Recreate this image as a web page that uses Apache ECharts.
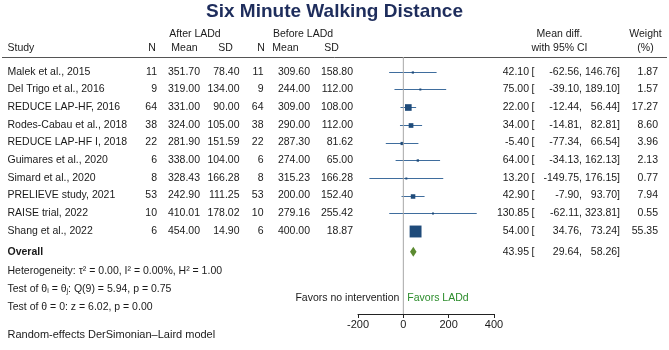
<!DOCTYPE html>
<html>
<head>
<meta charset="utf-8">
<style>
  html, body { margin: 0; padding: 0; background: #fff; }
  #chart { width: 669px; height: 350px; }
</style>
<script src="https://cdn.jsdelivr.net/npm/echarts@6.0.0/dist/echarts.min.js"></script>
</head>
<body>
<div id="chart"></div>
<script>
  // data
  const studies = [
    'Malek et al., 2015',
    'Del Trigo et al., 2016',
    'REDUCE LAP-HF, 2016',
    'Rodes-Cabau et al., 2018',
    'REDUCE LAP-HF I, 2018',
    'Guimares et al., 2020',
    'Simard et al., 2020',
    'PRELIEVE study, 2021',
    'RAISE trial, 2022',
    'Shang et al., 2022'
  ]
  const nAfter = [11, 9, 64, 38, 22, 6, 8, 53, 10, 6]
  const meanAfter = [351.70, 319.00, 331.00, 324.00, 281.90, 338.00, 328.43, 242.90, 410.01, 454.00]
  const sdAfter = [78.40, 134.00, 90.00, 105.00, 151.59, 104.00, 166.28, 111.25, 178.02, 14.90]
  const nBefore = [11, 9, 64, 38, 22, 6, 8, 53, 10, 6]
  const meanBefore = [309.60, 244.00, 309.00, 290.00, 287.30, 274.00, 315.23, 200.00, 279.16, 400.00]
  const sdBefore = [158.80, 112.00, 108.00, 112.00, 81.62, 65.00, 166.28, 152.40, 255.42, 18.87]
  const meanDiff = [42.10, 75.00, 22.00, 34.00, -5.40, 64.00, 13.20, 42.90, 130.85, 54.00]
  const ciLow = [-62.56, -39.10, -12.44, -14.81, -77.34, -34.13, -149.75, -7.90, -62.11, 34.76]
  const ciHigh = [146.76, 189.10, 56.44, 82.81, 66.54, 162.13, 176.15, 93.70, 323.81, 73.24]
  const weight = [1.87, 1.57, 17.27, 8.60, 3.96, 2.13, 0.77, 7.94, 0.55, 55.35]
  const overallDiff = 43.95
  const overallLow = 29.64
  const overallHigh = 58.26
  const xTicks = [-200, 0, 200, 400]
  const statLines = [
    'Heterogeneity: \u03c4\u00b2 = 0.00, I\u00b2 = 0.00%, H\u00b2 = 1.00',
    '{a|Test of \u03b8}{s|i}{a| = \u03b8}{s|j}{a|: Q(9) = 5.94, p = 0.75}',
    'Test of \u03b8 = 0: z = 6.02, p = 0.00'
  ]

  const FONT = '"Liberation Sans", Arial, Helvetica, sans-serif'
  const textColor = '#1a1a1a'
  const boxColor = '#1f4b7a'
  const ciColor = '#3f6d9d'
  const diamondColor = '#5b8a30'
  const favorColor = '#2b8c2b'
  const fs = 10.5

  // rows: pixel y of the first study row and row step
  const firstRowY = 71.7
  const rowH = 17.7
  const toRow = (y) => (y - firstRowY) / rowH
  const overallRow = toRow(251.7)
  const statRows = [toRow(270.7), toRow(289.3), toRow(307.3)]
  const favorRow = toRow(298.3)
  const footRow = toRow(335)
  const head1 = toRow(33.8)
  const head2 = toRow(48.3)

  const f2 = (v) => v.toFixed(2)
  const studyRows = studies.map((s, i) => i)

  const textSeries = []
  // one custom series per text column, placed on the full-page grid
  function addText(items, x, align, extra) {
    extra = extra || {}
    textSeries.push({
      type: 'custom',
      xAxisIndex: 1,
      yAxisIndex: 1,
      silent: true,
      data: items.map((it) => [x, it.row]),
      renderItem: function (params, api) {
        const p = api.coord([api.value(0), api.value(1)])
        const it = items[params.dataIndex]
        return {
          type: 'text',
          x: p[0],
          y: p[1],
          style: {
            text: it.text,
            align: align,
            verticalAlign: 'middle',
            fill: it.color || textColor,
            fontSize: it.size || fs,
            fontFamily: FONT,
            fontWeight: it.bold ? 'bold' : 'normal',
            rich: extra.rich
          }
        }
      }
    })
  }
  const col = (vals, fmt) => vals.map((v, i) => ({ row: i, text: fmt ? fmt(v) : String(v) }))

  // headers
  addText([{ row: head1, text: 'After LADd' }], 195, 'center')
  addText([{ row: head1, text: 'Before LADd' }], 303, 'center')
  addText([{ row: head1, text: 'Mean diff.' }, { row: head2, text: 'with 95% CI' }], 559.5, 'center')
  addText([{ row: head1, text: 'Weight' }, { row: head2, text: '(%)' }], 645.5, 'center')
  addText([{ row: head2, text: 'Study' }], 7.5, 'left')
  addText([{ row: head2, text: 'N' }], 152, 'center')
  addText([{ row: head2, text: 'Mean' }], 184.5, 'center')
  addText([{ row: head2, text: 'SD' }], 225.5, 'center')
  addText([{ row: head2, text: 'N' }], 261, 'center')
  addText([{ row: head2, text: 'Mean' }], 285.5, 'center')
  addText([{ row: head2, text: 'SD' }], 331.5, 'center')

  // study table
  addText(col(studies).concat([{ row: overallRow, text: 'Overall', bold: true }],
    statLines.map((t, k) => ({ row: statRows[k], text: t })),
    [{ row: footRow, text: 'Random-effects DerSimonian\u2013Laird model', size: 11 }]), 7.5, 'left', {
    rich: {
      a: { fontSize: fs, fontFamily: FONT, fill: textColor, verticalAlign: 'bottom' },
      s: { fontSize: 7, fontFamily: FONT, fill: textColor, verticalAlign: 'bottom' }
    }
  })
  addText(col(nAfter), 157, 'right')
  addText(col(meanAfter, f2), 200, 'right')
  addText(col(sdAfter, f2), 239.5, 'right')
  addText(col(nBefore), 263.5, 'right')
  addText(col(meanBefore, f2), 310, 'right')
  addText(col(sdBefore, f2), 353, 'right')

  // effect column
  addText(col(meanDiff, f2).concat([{ row: overallRow, text: f2(overallDiff) }]), 529, 'right')
  addText(studyRows.concat([overallRow]).map((r) => ({ row: r, text: '[' })), 531.5, 'left')
  addText(col(ciLow, (v) => f2(v) + ',').concat([{ row: overallRow, text: f2(overallLow) + ',' }]), 582, 'right')
  addText(col(ciHigh, (v) => f2(v) + ']').concat([{ row: overallRow, text: f2(overallHigh) + ']' }]), 620, 'right')
  addText(col(weight, f2), 658, 'right')

  const plotTop = 57
  const plotBottom = 314

  const option = {
    animation: false,
    title: {
      text: 'Six Minute Walking Distance',
      left: 'center',
      top: 2,
      padding: 0,
      textStyle: { fontSize: 19, fontWeight: 'bold', color: '#1e2d5c', fontFamily: FONT }
    },
    grid: [
      { left: 358, right: 175, top: plotTop, bottom: 350 - plotBottom, outerBoundsMode: 'none' },
      { left: 0, right: 0, top: 0, bottom: 0, outerBoundsMode: 'none' }
    ],
    xAxis: [
      {
        gridIndex: 0,
        type: 'value',
        min: xTicks[0],
        max: xTicks[xTicks.length - 1],
        interval: 200,
        axisLine: { show: true, onZero: false, lineStyle: { color: '#222', width: 1 } },
        axisTick: { show: true, length: 4, lineStyle: { color: '#222' } },
        axisLabel: { fontSize: 11, color: textColor, margin: 5, fontFamily: FONT, showMinLabel: true, showMaxLabel: true },
        splitLine: { show: false }
      },
      { gridIndex: 1, type: 'value', min: 0, max: 669, show: false }
    ],
    yAxis: [
      { gridIndex: 0, type: 'value', inverse: true, min: toRow(plotTop), max: toRow(plotBottom), show: false },
      { gridIndex: 1, type: 'value', inverse: true, min: toRow(0), max: toRow(350), show: false }
    ],
    graphic: [
      {
        type: 'line',
        shape: { x1: 2, y1: 57.5, x2: 667, y2: 57.5 },
        style: { stroke: '#555', lineWidth: 1 }
      }
    ],
    series: [
      {
        // no-effect line
        type: 'line',
        xAxisIndex: 0,
        yAxisIndex: 0,
        data: [[0, toRow(plotTop)], [0, toRow(plotBottom)]],
        symbol: 'none',
        silent: true,
        lineStyle: { color: '#a8a8a8', width: 1 }
      },
      {
        // study CIs and weighted boxes
        type: 'custom',
        xAxisIndex: 0,
        yAxisIndex: 0,
        silent: true,
        data: studies.map((s, i) => [meanDiff[i], i, ciLow[i], ciHigh[i], weight[i]]),
        renderItem: function (params, api) {
          const row = api.value(1)
          const c = api.coord([api.value(0), row])
          const a = api.coord([api.value(2), row])
          const b = api.coord([api.value(3), row])
          const side = Math.max(2, 1.6 * Math.sqrt(api.value(4)))
          const y = Math.round(c[1]) + 0.5
          return {
            type: 'group',
            children: [
              { type: 'line', shape: { x1: a[0], y1: y, x2: b[0], y2: y }, style: { stroke: ciColor, lineWidth: 1 } },
              { type: 'rect', shape: { x: c[0] - side / 2, y: y - side / 2, width: side, height: side }, style: { fill: boxColor } }
            ]
          }
        }
      },
      {
        // overall diamond
        type: 'custom',
        xAxisIndex: 0,
        yAxisIndex: 0,
        silent: true,
        data: [[overallDiff, overallRow, overallLow, overallHigh]],
        renderItem: function (params, api) {
          const row = api.value(1)
          const c = api.coord([api.value(0), row])
          const a = api.coord([api.value(2), row])
          const b = api.coord([api.value(3), row])
          const h = 5
          return {
            type: 'polygon',
            shape: { points: [[a[0], c[1]], [c[0], c[1] - h], [b[0], c[1]], [c[0], c[1] + h]] },
            style: { fill: diamondColor }
          }
        }
      },
      {
        // favours labels either side of zero
        type: 'custom',
        xAxisIndex: 0,
        yAxisIndex: 0,
        silent: true,
        data: [[0, favorRow]],
        renderItem: function (params, api) {
          const p = api.coord([api.value(0), api.value(1)])
          const base = { verticalAlign: 'middle', fontSize: fs, fontFamily: FONT }
          return {
            type: 'group',
            children: [
              { type: 'text', x: p[0] - 4, y: p[1], style: Object.assign({ text: 'Favors no intervention', align: 'right', fill: textColor }, base) },
              { type: 'text', x: p[0] + 4, y: p[1], style: Object.assign({ text: 'Favors LADd', align: 'left', fill: favorColor }, base) }
            ]
          }
        }
      }
    ].concat(textSeries)
  }

  const chart = echarts.init(document.getElementById('chart'))
  chart.setOption(option)
</script>
</body>
</html>
